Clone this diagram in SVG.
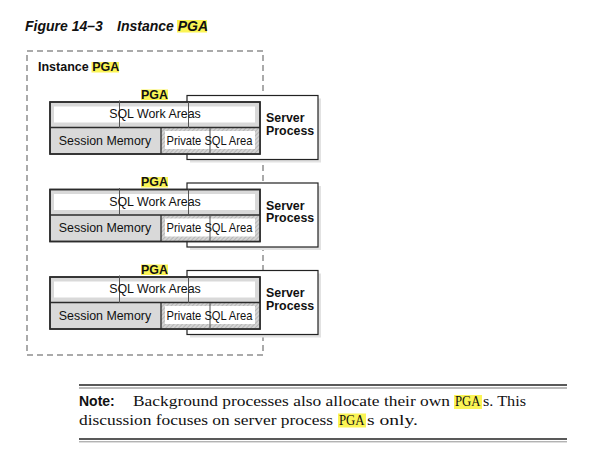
<svg xmlns="http://www.w3.org/2000/svg" width="606" height="453" viewBox="0 0 606 453">
<style>
.sans{font-family:"Liberation Sans",Arial,sans-serif;fill:#111}
.b{font-weight:bold}
.lbl{font-size:12.4px}
.serif{font-family:"Liberation Serif","Times New Roman",serif;font-size:15.5px;fill:#111}
.hl{fill:#fbf455}
.pga{fill:#d9d9d9;stroke:#2b2b2b;stroke-width:1.5}
.div{fill:none;stroke:#2b2b2b;stroke-width:1.3}
.srv{fill:#fff;stroke:#222;stroke-width:1.2}
.shadow{fill:#e2e2e2}
.ghost{stroke:#555;stroke-width:1}
</style>
<defs>
<pattern id="hatch" width="3" height="3" patternUnits="userSpaceOnUse" patternTransform="rotate(45)">
<rect width="3" height="3" fill="#d4d4d4"/>
<line x1="0" y1="0" x2="0" y2="3" stroke="#9a9a9a" stroke-width="1"/>
</pattern>
<g id="block">
<rect class="shadow" x="190" y="98.5" width="131" height="64"/>
<rect class="srv" x="187" y="95.5" width="131" height="64"/>
<rect class="pga" x="50" y="102" width="210" height="52"/>
<rect x="54" y="106.5" width="201" height="16" fill="#fff"/>
<rect x="161" y="128" width="98.5" height="25.3" fill="url(#hatch)"/>
<rect x="165" y="131" width="90" height="18" fill="#fff"/>
<line class="div" x1="50" y1="127.5" x2="260" y2="127.5"/>
<line class="div" x1="161" y1="127.5" x2="161" y2="154"/>
<rect x="50" y="102" width="210" height="52" fill="none" stroke="#2b2b2b" stroke-width="1.5"/>
<line class="ghost" x1="119.5" y1="100.5" x2="119.5" y2="128"/>
<line class="ghost" x1="188.5" y1="102" x2="188.5" y2="128"/>
<line class="ghost" x1="210" y1="128" x2="210" y2="154"/>
<rect class="hl" x="141" y="89.5" width="27" height="10.5"/>
<text class="sans b lbl" x="154.5" y="98.5" text-anchor="middle">PGA</text>
<text class="sans lbl" x="155" y="118" text-anchor="middle">SQL Work Areas</text>
<text class="sans lbl" x="105" y="144.5" text-anchor="middle">Session Memory</text>
<text class="sans lbl" x="166.5" y="144.5" textLength="86" lengthAdjust="spacingAndGlyphs">Private SQL Area</text>
<text class="sans b lbl" x="266" y="122">Server</text>
<text class="sans b lbl" x="266" y="134.5">Process</text>
</g>
</defs>
<rect width="606" height="453" fill="#fff"/>
<g id="title">
<rect class="hl" x="177" y="20" width="30" height="12.5"/>
<text class="sans b" font-style="italic" font-size="14" x="25" y="31">Figure 14–3</text>
<text class="sans b" font-style="italic" font-size="14" x="117" y="31">Instance PGA</text>
</g>
<g id="instance-pga">
<rect x="27" y="51" width="236" height="304" fill="none" stroke="#aaa" stroke-width="2" stroke-dasharray="6 4"/>
<rect class="hl" x="91.5" y="62" width="27.5" height="10.5"/>
<text class="sans b" font-size="12.5" x="38" y="71">Instance PGA</text>
</g>
<g id="connectors"/>
<g id="server-pga-1"><use href="#block"/></g>
<g id="server-pga-2"><use href="#block" transform="translate(0,87.5)"/></g>
<g id="server-pga-3"><use href="#block" transform="translate(0,175)"/></g>
<g id="note">
<line x1="79" y1="385" x2="567" y2="385" stroke="#222" stroke-width="1.6"/>
<line x1="79" y1="388" x2="567" y2="388" stroke="#555" stroke-width="0.8"/>
<line x1="79" y1="439" x2="567" y2="439" stroke="#222" stroke-width="1.3"/>
<line x1="79" y1="441.8" x2="567" y2="441.8" stroke="#777" stroke-width="0.8"/>
<rect class="hl" x="454" y="395" width="28" height="14"/>
<rect class="hl" x="338" y="413.5" width="28" height="14"/>
<text class="sans b" font-size="14" x="79" y="406">Note:</text>
<text class="serif" y="406"><tspan x="133" textLength="317" lengthAdjust="spacingAndGlyphs">Background processes also allocate their own</tspan><tspan x="455" textLength="25.5" lengthAdjust="spacingAndGlyphs">PGA</tspan><tspan x="483" textLength="43" lengthAdjust="spacingAndGlyphs">s. This</tspan></text>
<text class="serif" y="424.7"><tspan x="79" textLength="254" lengthAdjust="spacingAndGlyphs">discussion focuses on server process</tspan><tspan x="339" textLength="25.5" lengthAdjust="spacingAndGlyphs">PGA</tspan><tspan x="367" textLength="51" lengthAdjust="spacingAndGlyphs">s only.</tspan></text>
</g>
</svg>
